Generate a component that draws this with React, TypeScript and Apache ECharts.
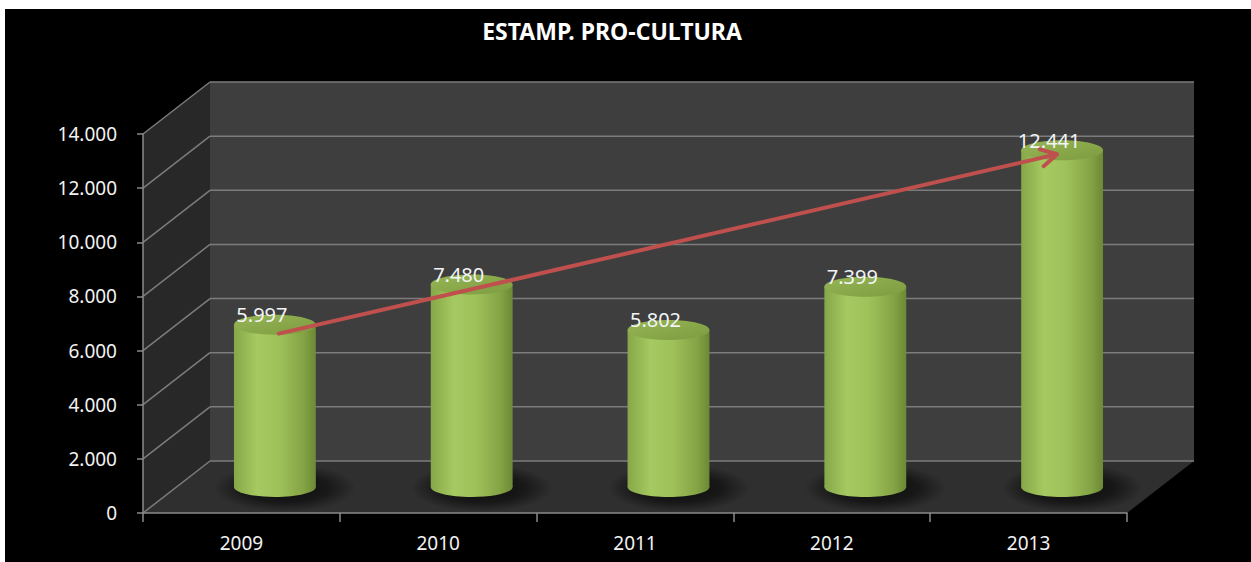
import React, { useEffect, useRef } from "react";
import * as echarts from "echarts";

const categories = ["2009", "2010", "2011", "2012", "2013"];
const values = [5997, 7480, 5802, 7399, 12441];
const yTicks = [0, 2000, 4000, 6000, 8000, 10000, 12000, 14000];
const titleText = "ESTAMP. PRO-CULTURA";

const DX = 67;
const DY = -52;
const FONT = "'Noto Sans', 'Open Sans', sans-serif";
const GRID_COLOR = "#7c7c7c";

function fmt(v: number): string {
  return String(Math.round(v)).replace(/\B(?=(\d{3})+(?!\d))/g, ".");
}

function bodyGradient() {
  return new echarts.graphic.LinearGradient(0, 0, 1, 0, [
    { offset: 0, color: "#86a747" },
    { offset: 0.28, color: "#a6c961" },
    { offset: 0.55, color: "#9fc159" },
    { offset: 0.85, color: "#84a345" },
    { offset: 1, color: "#6c8934" },
  ]);
}

function topGradient() {
  return new echarts.graphic.LinearGradient(0, 0, 1, 1, [
    { offset: 0, color: "#96b655" },
    { offset: 1, color: "#7d9b40" },
  ]);
}

function shadowGradient() {
  return new echarts.graphic.RadialGradient(0.5, 0.5, 0.5, [
    { offset: 0, color: "rgba(0,0,0,0.75)" },
    { offset: 0.6, color: "rgba(0,0,0,0.5)" },
    { offset: 1, color: "rgba(0,0,0,0)" },
  ]);
}

export default function App() {
  const ref = useRef<HTMLDivElement>(null);

  useEffect(() => {
    if (!ref.current) return;
    const chart = echarts.init(ref.current, undefined, { renderer: "svg" });
    const n = categories.length;

    const option: any = {
      animation: false,
      backgroundColor: "#ffffff",
      graphic: [
        {
          type: "rect",
          z: -10,
          shape: { x: 5, y: 9, width: 1246, height: 553 },
          style: { fill: "#000000" },
          silent: true,
        },
        {
          type: "text",
          z: 10,
          x: 612,
          y: 31,
          style: {
            text: titleText,
            align: "center",
            verticalAlign: "middle",
            fill: "#ffffff",
            fontSize: 23,
            fontWeight: "bold",
            fontFamily: FONT,
          },
        },
      ],
      grid: {
        left: 143,
        right: 124,
        top: 134,
        bottom: 49,
        containLabel: false,
        outerBoundsMode: "none",
      },
      xAxis: {
        type: "category",
        data: categories,
        z: 10,
        axisLine: { show: true, lineStyle: { color: "#8a8a8a", width: 1.5 } },
        axisTick: { show: true, length: 9, lineStyle: { color: "#8a8a8a", width: 1.5 } },
        axisLabel: { color: "#f2f2f2", fontSize: 19, fontFamily: FONT, margin: 20 },
        splitLine: { show: false },
      },
      yAxis: {
        type: "value",
        min: 0,
        max: 14000,
        interval: 2000,
        z: 10,
        axisLine: { show: true, lineStyle: { color: "#8a8a8a", width: 1.5 } },
        axisTick: { show: true, length: 6, lineStyle: { color: "#8a8a8a", width: 1.5 } },
        axisLabel: { color: "#f2f2f2", fontSize: 19, fontFamily: FONT, margin: 26, formatter: (v: number) => fmt(v) },
        splitLine: { show: false },
      },
      series: [
        {
          type: "custom",
          name: "frame",
          z: 1,
          silent: true,
          data: [[0, 0]],
          renderItem: (params: any, api: any) => {
            const cs = params.coordSys;
            const x0 = cs.x;
            const x1 = cs.x + cs.width;
            const y0 = api.coord([0, 0])[1];
            const yT = api.coord([0, yTicks[yTicks.length - 1]])[1];
            const children: any[] = [];
            children.push({
              type: "polygon",
              shape: { points: [[x0, yT], [x0 + DX, yT + DY], [x0 + DX, y0 + DY], [x0, y0]] },
              style: { fill: "#282828" },
            });
            children.push({
              type: "rect",
              shape: { x: x0 + DX, y: yT + DY, width: cs.width, height: y0 - yT },
              style: { fill: "#3e3e3e" },
            });
            children.push({
              type: "polygon",
              shape: { points: [[x0, y0], [x1, y0], [x1 + DX, y0 + DY], [x0 + DX, y0 + DY]] },
              style: { fill: "#2f2f2f" },
            });
            yTicks.forEach((t) => {
              const y = api.coord([0, t])[1];
              children.push({
                type: "line",
                shape: { x1: x0, y1: y, x2: x0 + DX, y2: y + DY },
                style: { stroke: GRID_COLOR, lineWidth: 1.5 },
              });
              children.push({
                type: "line",
                shape: { x1: x0 + DX, y1: y + DY, x2: x1 + DX, y2: y + DY },
                style: { stroke: GRID_COLOR, lineWidth: 1.5 },
              });
            });
            return { type: "group", children };
          },
        },
        {
          type: "custom",
          name: "Estamp. Pro-Cultura",
          z: 2,
          data: values.map((v, i) => [i, v]),
          renderItem: (params: any, api: any) => {
            const i = api.value(0);
            const v = api.value(1);
            const top = api.coord([i, v]);
            const base = api.coord([i, 0]);
            const band = api.size([1, 0])[0];
            const w = band * 0.416;
            const rx = w / 2;
            const ry = 10;
            const cx = top[0] + DX / 2;
            const yT = top[1] + DY / 2;
            const yB = base[1] + DY / 2;
            return {
              type: "group",
              children: [
                {
                  type: "ellipse",
                  shape: { cx: cx + 10, cy: yB + 1, rx: rx + 30, ry: ry + 14 },
                  style: { fill: shadowGradient() },
                },
                {
                  type: "rect",
                  shape: { x: cx - rx, y: yT, width: w, height: yB - yT },
                  style: { fill: bodyGradient() },
                },
                {
                  type: "ellipse",
                  shape: { cx, cy: yB, rx, ry },
                  style: { fill: bodyGradient() },
                },
                {
                  type: "ellipse",
                  shape: { cx, cy: yT, rx, ry },
                  style: { fill: topGradient() },
                },
                {
                  type: "text",
                  style: {
                    text: fmt(v),
                    x: cx - 13,
                    y: yT - 10,
                    align: "center",
                    verticalAlign: "middle",
                    fill: "#f2f4f6",
                    fontSize: 20,
                    fontFamily: FONT,
                  },
                },
              ],
            };
          },
        },
        {
          type: "custom",
          name: "trend",
          z: 3,
          silent: true,
          data: [[0, values[0]]],
          renderItem: (params: any, api: any) => {
            const a = api.coord([0, values[0]]);
            const b = api.coord([n - 1, values[n - 1]]);
            const sx = a[0] + DX / 2 + 4;
            const sy = a[1] + DY / 2 + 9;
            const ex = b[0] + DX / 2 - 5;
            const ey = b[1] + DY / 2 + 4;
            const ang = Math.atan2(ey - sy, ex - sx);
            const L = 18;
            const s = 0.5;
            const w1 = [ex - L * Math.cos(ang - s), ey - L * Math.sin(ang - s)];
            const w2 = [ex - L * Math.cos(ang + s), ey - L * Math.sin(ang + s)];
            const st = { stroke: "#c0504d", lineWidth: 4, lineCap: "round", lineJoin: "round", fill: null };
            return {
              type: "group",
              children: [
                { type: "line", shape: { x1: sx, y1: sy, x2: ex - 2 * Math.cos(ang), y2: ey - 2 * Math.sin(ang) }, style: st },
                { type: "polyline", shape: { points: [w1, [ex, ey], w2] }, style: st },
              ],
            };
          },
        },
      ],
    };

    chart.setOption(option);
    return () => {
      chart.dispose();
    };
  }, []);

  return (
    <div
      ref={ref}
      style={{ position: "absolute", left: 0, top: 0, width: 1251, height: 562 }}
    />
  );
}
